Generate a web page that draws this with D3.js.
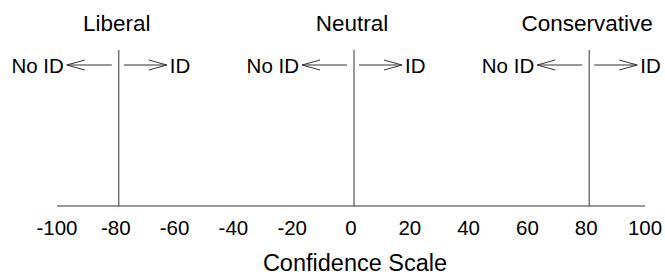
<!DOCTYPE html>
<html>
<head>
<meta charset="utf-8">
<script src="https://cdn.jsdelivr.net/npm/d3@7"></script>
<style>
  html, body { margin: 0; padding: 0; background: #fff; }
  svg { display: block; }
  text { font-family: "Liberation Sans", Arial, sans-serif; fill: #000; }
</style>
</head>
<body>
<svg id="chart" width="665" height="280"></svg>
<script>
// ---- data ----
const tickValues = [-100, -80, -60, -40, -20, 0, 20, 40, 60, 80, 100];
const groupNames = ["Liberal", "Neutral", "Conservative"];
const groupValues = [-80, 0, 80];
const leftLabel = "No ID";
const rightLabel = "ID";
const axisTitle = "Confidence Scale";

// ---- layout ----
const W = 665, H = 280;
const axisY = 206;
const lineTop = 50;
const arrowY = 65;
const stroke = "#333";

const svg = d3.select("#chart");
const x = d3.scaleLinear().domain([-100, 100]).range([60, 648]);

// axis baseline
svg.append("line")
  .attr("x1", x(-100) - 3).attr("x2", x(100) - 3)
  .attr("y1", axisY).attr("y2", axisY)
  .attr("stroke", stroke).attr("stroke-width", 1);

// tick labels via d3 axis (no tick marks, no domain)
const axis = d3.axisBottom(x).tickValues(tickValues).tickSize(0).tickPadding(0)
  .tickFormat(d => String(d));
const gAxis = svg.append("g").attr("transform", `translate(0,${axisY})`).call(axis);
gAxis.select(".domain").remove();
gAxis.selectAll("text")
  .attr("dy", null)
  .attr("y", 29)
  .attr("dx", -3.5)
  .style("font-size", "20.5px")
  .style("font-family", "'Liberation Sans', Arial, sans-serif")
  .attr("fill", "#000");

// axis title
svg.append("text")
  .attr("x", x(0) + 1).attr("y", 271)
  .attr("text-anchor", "middle")
  .style("font-size", "23.5px")
  .text(axisTitle);

// groups
const groups = svg.selectAll("g.grp")
  .data(groupNames.map((n, i) => ({ name: n, value: groupValues[i] })))
  .join("g").attr("class", "grp")
  .attr("transform", d => `translate(${x(d.value)},0)`);

groups.append("line")
  .attr("x1", 0).attr("x2", 0)
  .attr("y1", lineTop).attr("y2", axisY)
  .attr("stroke", stroke).attr("stroke-width", 1);

groups.append("text")
  .attr("x", -2).attr("y", 31)
  .attr("text-anchor", "middle")
  .style("font-size", "22.5px")
  .text(d => d.name);

// left arrow: tip at -52, shaft end at -7
const headL = 18, headH = 5;
groups.append("path")
  .attr("d", `M-7,${arrowY} L-52,${arrowY} M${-52 + headL},${arrowY - headH} L-52,${arrowY} L${-52 + headL},${arrowY + headH}`)
  .attr("fill", "none").attr("stroke", stroke).attr("stroke-width", 1);

// right arrow: start at +5, tip at +48
groups.append("path")
  .attr("d", `M5,${arrowY} L48,${arrowY} M${48 - headL},${arrowY - headH} L48,${arrowY} L${48 - headL},${arrowY + headH}`)
  .attr("fill", "none").attr("stroke", stroke).attr("stroke-width", 1);

groups.append("text")
  .attr("x", -55).attr("y", arrowY + 7.5)
  .attr("text-anchor", "end")
  .style("font-size", "20.5px")
  .text(leftLabel);

groups.append("text")
  .attr("x", 51).attr("y", arrowY + 7.5)
  .attr("text-anchor", "start")
  .style("font-size", "20.5px")
  .text(rightLabel);
</script>
</body>
</html>
